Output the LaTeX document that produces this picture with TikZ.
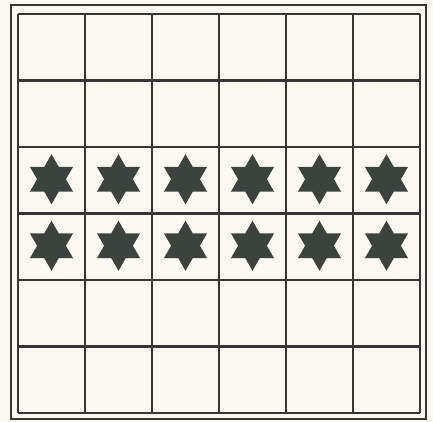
\documentclass[tikz,border=0pt]{standalone}
\usetikzlibrary{calc}
\definecolor{paper}{HTML}{FBF7F2}
\definecolor{ink}{HTML}{363636}
\definecolor{starc}{HTML}{3C433F}
\tikzset{
  gridline/.style={draw=ink, line width=2.2pt},
  frameline/.style={draw=ink, line width=2pt},
  starshape/.style={fill=starc, draw=none},
}
\begin{document}
\begin{tikzpicture}[x=1pt,y=-1pt]
\fill[paper] (0,0) rectangle (433,422);
\useasboundingbox (0,0) rectangle (433,422);
% outer frame
\draw[frameline] (10.5,5.5) rectangle (425.5,418.5);
% inner grid
\foreach \i in {0,...,6} {
  \draw[gridline] ({18+67*\i},14) -- ({18+67*\i},413);
  \draw[gridline] (18,{14+66.5*\i}) -- (420,{14+66.5*\i});
}
% stars
\foreach \r in {2,3} {
  \foreach \c in {0,...,5} {
    \pgfmathsetmacro{\cx}{18+67*(\c+0.5)}
    \pgfmathsetmacro{\cy}{14+66.5*(\r+0.5)-1}
    \fill[starshape] ($(\cx,\cy)+(90:25)$)
      \foreach \k in {1,...,11} {
        -- ($(\cx,\cy)+({90+30*\k}:{mod(\k,2)==1 ? 14.4 : 25})$)
      } -- cycle;
  }
}
\end{tikzpicture}
\end{document}
